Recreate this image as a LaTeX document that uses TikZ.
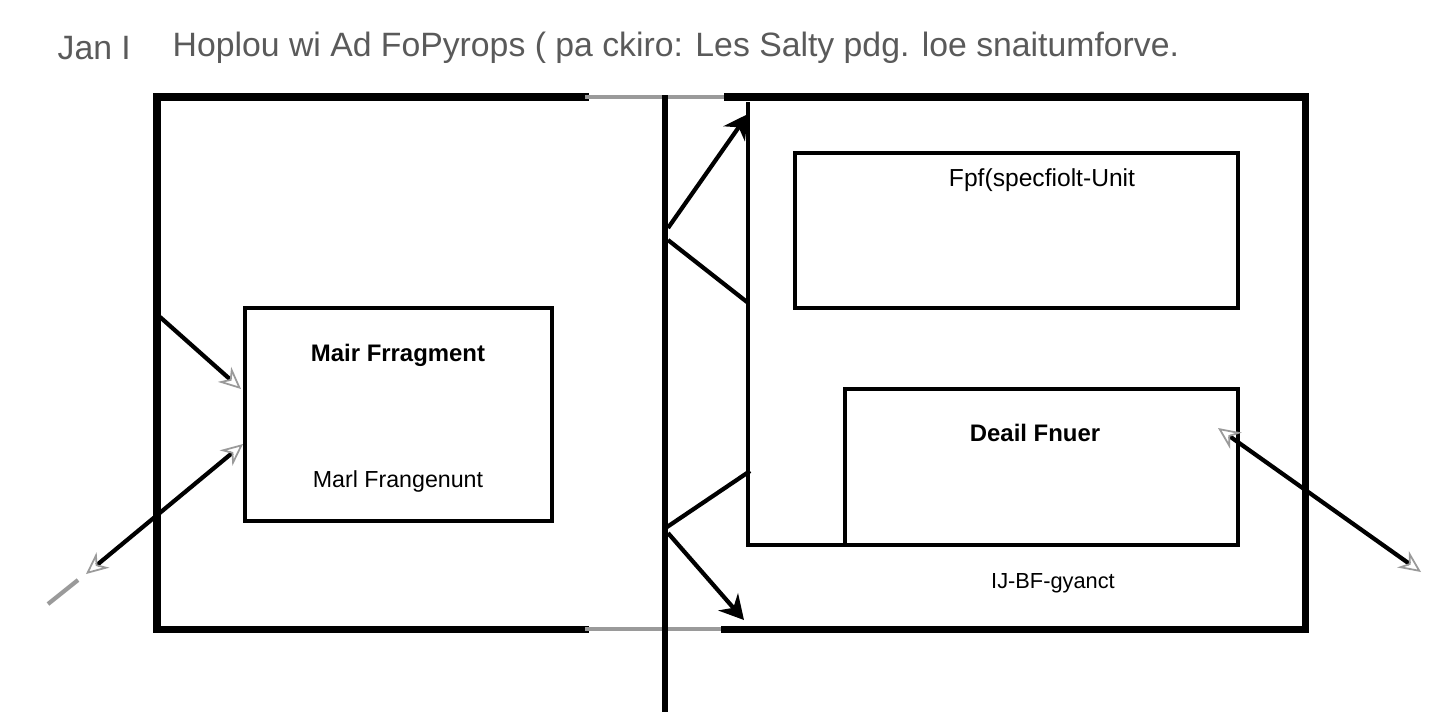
\documentclass[tikz,border=0pt]{standalone}
\usepackage{fontspec}
\setmainfont{Liberation Sans}
\usetikzlibrary{arrows.meta}
\definecolor{titlegray}{HTML}{5A5A5A}
\definecolor{fadegray}{HTML}{9A9A9A}
\tikzset{
  x=0.01cm, y=-0.01cm,
  frame/.style={line width=2pt, black, line cap=rect},
  fadeline/.style={line width=1.2pt, fadegray},
  boxnode/.style={draw=black, line width=1.2pt, inner sep=0pt},
  conn/.style={line width=1.2pt, black},
  trunk/.style={line width=1.8pt, black},
  opentip/.style={line width=1.2pt, black, -{Stealth[open, length=2.2mm, width=2mm, color=fadegray, line width=0.5pt]}},
  bothtip/.style={line width=1.2pt, black, {Stealth[open, length=2.2mm, width=2mm, color=fadegray, line width=0.5pt]}-{Stealth[open, length=2.2mm, width=2mm, color=fadegray, line width=0.5pt]}},
  solidtip/.style={line width=1.2pt, black, -{Stealth[length=2.4mm, width=2.6mm]}},
  boldlabel/.style={font=\fontsize{6.8}{8}\selectfont\bfseries, inner sep=0pt},
  plainlabel/.style={font=\fontsize{6.6}{8}\selectfont, inner sep=0pt},
  titletext/.style={font=\fontsize{9.6}{11}\selectfont, text=titlegray, inner sep=0pt, anchor=west}
}
\begin{document}
\begin{tikzpicture}
\useasboundingbox[fill=white] (0,0) rectangle (1440,720);

% title
\node[titletext] (titleA) at (57,48) {Jan I};
\node[titletext] (titleB) at (172,48) {Hoplou wi Ad FoPyrops ( pa ckiro: Les Salty pdg. loe snaitumforve.};

% left frame
\draw[frame] (585,97) -- (157,97) -- (157,629) -- (585,629);
\draw[fadeline] (585,97) -- (728,97);
\draw[fadeline] (585,629) -- (725,629);

% right frame
\draw[frame] (728,97) -- (1305,97) -- (1305,629) -- (725,629);
\draw[line width=1.4pt, black] (748,102) -- (748,545) -- (845,545);

% central trunk
\coordinate (trunkTop) at (665,95);
\coordinate (trunkBot) at (665,712);
\draw[trunk] (trunkTop) -- (trunkBot);

% boxes
\node[boxnode, minimum width=3.07cm, minimum height=2.13cm] (mainbox) at (398.5,414.5) {};
\node[boxnode, minimum width=4.43cm, minimum height=1.55cm] (specbox) at (1016.5,230.5) {};
\node[boxnode, minimum width=3.93cm, minimum height=1.56cm] (detailbox) at (1041.5,467) {};

% labels
\node[boldlabel] (mainTitle) at (398,355) {Mair Frragment};
\node[plainlabel] (mainSub) at (398,481) {Marl Frangenunt};
\node[plainlabel, font=\fontsize{7}{8}\selectfont] (specTitle) at (1042,180) {Fpf(specfiolt-Unit};
\node[boldlabel] (detailTitle) at (1035,433) {Deail Fnuer};
\node[plainlabel, font=\fontsize{6.2}{8}\selectfont] (lowerLabel) at (1053,583) {IJ-BF-gyanct};

% connector coordinates
\coordinate (lf1) at (160,317);
\coordinate (mb1) at (241,389);
\coordinate (mb2) at (243,444);
\coordinate (lo1) at (86,574);
\coordinate (lo2) at (78,580);
\coordinate (lo3) at (48,604);
\coordinate (t1) at (668,228);
\coordinate (t2) at (668,240);
\coordinate (cornerTop) at (748,114);
\coordinate (inner1) at (747,302);
\coordinate (b1) at (667,527);
\coordinate (b2) at (668,533);
\coordinate (inner2) at (750,471);
\coordinate (cornerBot) at (744,620);
\coordinate (dr) at (1218,428);
\coordinate (ro) at (1421,572);

% connectors
\draw[opentip] (lf1) -- (mb1);
\draw[bothtip] (mb2) -- (lo1);
\draw[line width=1.2pt, fadegray] (lo2) -- (lo3);
\draw[solidtip] (t1) -- (cornerTop);
\draw[conn] (t2) -- (inner1);
\draw[conn] (b1) -- (inner2);
\draw[solidtip] (b2) -- (cornerBot);
\draw[bothtip] (dr) -- (ro);
\end{tikzpicture}
\end{document}
